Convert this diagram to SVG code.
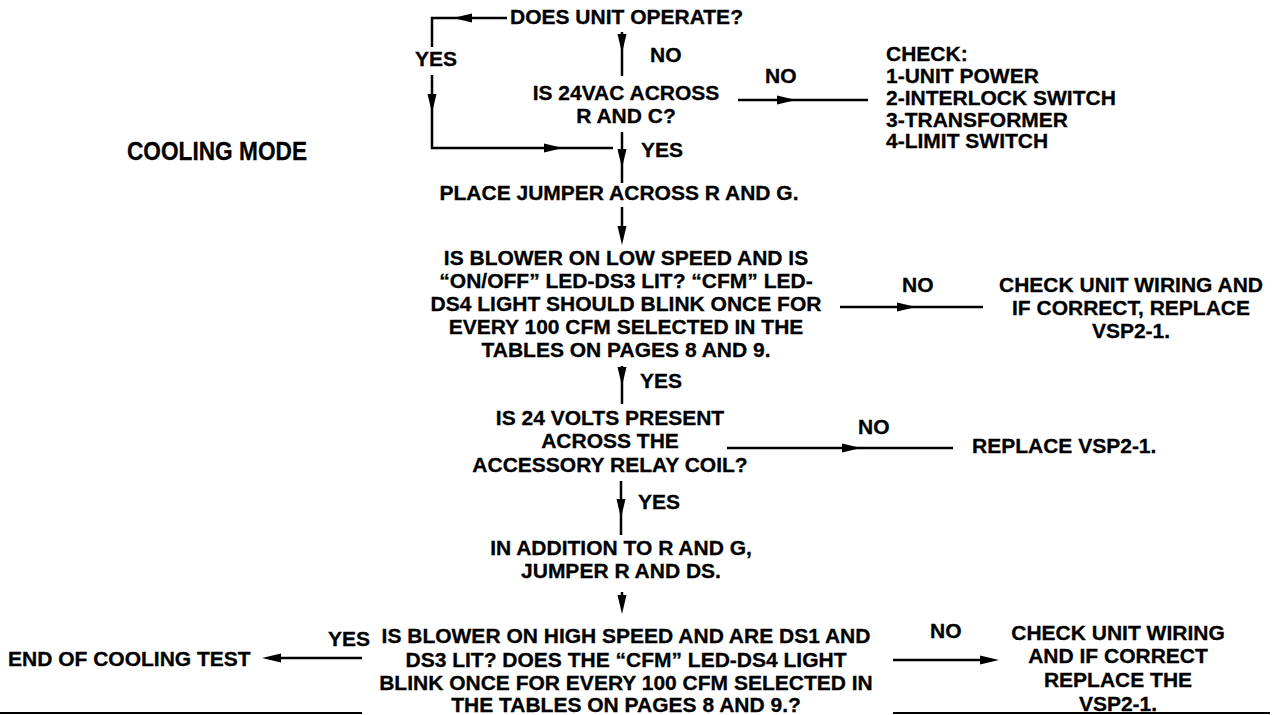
<svg xmlns="http://www.w3.org/2000/svg" xmlns:xlink="http://www.w3.org/1999/xlink" width="1281" height="715" viewBox="0 0 1281 715">
<style>
text{font-family:"Liberation Sans",Arial,sans-serif;font-weight:bold;font-size:21px;fill:#000;stroke:#000;stroke-width:0.3}
.c{text-anchor:middle}
.title{font-size:26px}
.ln{stroke:#000;stroke-width:2.5;fill:none}
.ah{fill:#000}
</style>
<defs>
<path id="ah" class="ah" d="M0,0 L-19,-4.5 L-19,4.5 Z"/>
</defs>
<rect width="1281" height="715" fill="#fff"/>

<g id="title"><text class="title" x="127" y="160" textLength="180" lengthAdjust="spacingAndGlyphs">COOLING MODE</text></g>

<g id="n-operate"><text x="510" y="24">DOES UNIT OPERATE?</text></g>
<g id="n-24vac"><text class="c" x="626" y="100">IS 24VAC ACROSS</text><text class="c" x="626" y="123">R AND C?</text></g>
<g id="n-check1">
<text x="886" y="61">CHECK:</text>
<text x="886" y="83">1-UNIT POWER</text>
<text x="886" y="105">2-INTERLOCK SWITCH</text>
<text x="886" y="127">3-TRANSFORMER</text>
<text x="886" y="148">4-LIMIT SWITCH</text>
</g>
<g id="n-jumper"><text class="c" x="619" y="200">PLACE JUMPER ACROSS R AND G.</text></g>
<g id="n-lowspeed">
<text class="c" x="626" y="265">IS BLOWER ON LOW SPEED AND IS</text>
<text class="c" x="626" y="288">“ON/OFF” LED-DS3 LIT? “CFM” LED-</text>
<text class="c" x="626" y="311">DS4 LIGHT SHOULD BLINK ONCE FOR</text>
<text class="c" x="626" y="334">EVERY 100 CFM SELECTED IN THE</text>
<text class="c" x="626" y="357">TABLES ON PAGES 8 AND 9.</text>
</g>
<g id="n-check2">
<text class="c" x="1131" y="292">CHECK UNIT WIRING AND</text>
<text class="c" x="1131" y="315">IF CORRECT, REPLACE</text>
<text class="c" x="1131" y="338">VSP2-1.</text>
</g>
<g id="n-24volts">
<text class="c" x="610" y="425">IS 24 VOLTS PRESENT</text>
<text class="c" x="610" y="448">ACROSS THE</text>
<text class="c" x="610" y="472">ACCESSORY RELAY COIL?</text>
</g>
<g id="n-replace"><text x="972" y="453">REPLACE VSP2-1.</text></g>
<g id="n-addition">
<text class="c" x="621" y="555">IN ADDITION TO R AND G,</text>
<text class="c" x="621" y="578">JUMPER R AND DS.</text>
</g>
<g id="n-highspeed">
<text class="c" x="626" y="643">IS BLOWER ON HIGH SPEED AND ARE DS1 AND</text>
<text class="c" x="626" y="667">DS3 LIT? DOES THE “CFM” LED-DS4 LIGHT</text>
<text class="c" x="626" y="690">BLINK ONCE FOR EVERY 100 CFM SELECTED IN</text>
<text class="c" x="626" y="712">THE TABLES ON PAGES 8 AND 9.?</text>
</g>
<g id="n-end"><text x="8" y="666">END OF COOLING TEST</text></g>
<g id="n-check3">
<text class="c" x="1118" y="640">CHECK UNIT WIRING</text>
<text class="c" x="1118" y="663">AND IF CORRECT</text>
<text class="c" x="1118" y="687">REPLACE THE</text>
<text class="c" x="1118" y="711">VSP2-1.</text>
</g>

<g id="connectors">
<polyline class="ln" points="507,18 432,18 432,47"/>
<polyline class="ln" points="432,75 432,148 613,148"/>
<use xlink:href="#ah" transform="translate(453,18) rotate(180)"/>
<use xlink:href="#ah" transform="translate(432,113) rotate(90)"/>
<use xlink:href="#ah" transform="translate(563,148)"/>
<text x="415" y="66">YES</text>

<line class="ln" x1="622" y1="32" x2="622" y2="76"/>
<use xlink:href="#ah" transform="translate(622,53) rotate(90)"/>
<text x="650" y="62">NO</text>

<line class="ln" x1="622" y1="132" x2="622" y2="183"/>
<use xlink:href="#ah" transform="translate(622,168) rotate(90)"/>
<text x="641" y="157">YES</text>

<line class="ln" x1="738" y1="100" x2="868" y2="100"/>
<use xlink:href="#ah" transform="translate(796,100)"/>
<text x="765" y="83">NO</text>

<line class="ln" x1="622" y1="207" x2="622" y2="232"/>
<use xlink:href="#ah" transform="translate(622,245) rotate(90)"/>

<line class="ln" x1="840" y1="307" x2="983" y2="307"/>
<use xlink:href="#ah" transform="translate(916,307)"/>
<text x="902" y="292">NO</text>

<line class="ln" x1="622" y1="366" x2="622" y2="404"/>
<use xlink:href="#ah" transform="translate(622,386) rotate(90)"/>
<text x="640" y="388">YES</text>

<line class="ln" x1="727" y1="448" x2="953" y2="448"/>
<use xlink:href="#ah" transform="translate(861,448)"/>
<text x="858" y="434">NO</text>

<line class="ln" x1="621" y1="481" x2="621" y2="535"/>
<use xlink:href="#ah" transform="translate(621,518) rotate(90)"/>
<text x="638" y="509">YES</text>

<line class="ln" x1="622" y1="592" x2="622" y2="602"/>
<use xlink:href="#ah" transform="translate(622,614) rotate(90)"/>

<line class="ln" x1="362" y1="658" x2="275" y2="658"/>
<use xlink:href="#ah" transform="translate(262,658) rotate(180)"/>
<text x="328" y="646">YES</text>

<line class="ln" x1="893" y1="660" x2="985" y2="660"/>
<use xlink:href="#ah" transform="translate(999,660)"/>
<text x="930" y="638">NO</text>
</g>

<g id="rules">
<line class="ln" x1="0" y1="713" x2="362" y2="713" style="stroke-width:2"/>
<line class="ln" x1="893" y1="713" x2="1270" y2="713" style="stroke-width:2"/>
</g>
</svg>
